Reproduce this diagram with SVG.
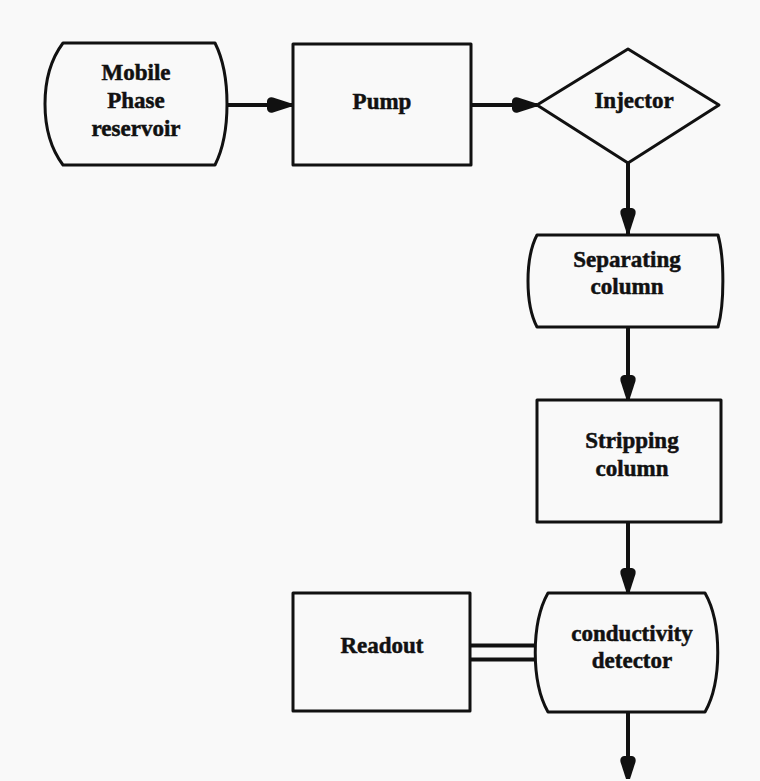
<svg xmlns="http://www.w3.org/2000/svg" xmlns:xlink="http://www.w3.org/1999/xlink" width="760" height="781" viewBox="0 0 760 781">
  <style>
    .box { fill: none; stroke: #111; stroke-width: 3; stroke-linejoin: round; }
    .flow { fill: none; stroke: #111; stroke-width: 4; }
    .label { font-family: "Liberation Serif", "Times New Roman", serif; font-weight: bold; font-size: 23px; fill: #111; stroke: #111; stroke-width: 0.5; text-anchor: middle; }
  </style>
  <defs>
    <!-- blunt-backed arrowhead, pointing right, tip at origin -->
    <path id="head" d="M0,-2 L-17,-7.5 Q-22,-8.5 -23,-4 L-23,4 Q-22,8.5 -17,7.5 L0,2 Z" fill="#111"/>
  </defs>
  <rect width="760" height="781" fill="#f9f9f9"/>

  <g id="connectors">
    <line class="flow" x1="227" y1="105" x2="293" y2="105"/>
    <use xlink:href="#head" transform="translate(290,105)"/>
    <line class="flow" x1="471" y1="105" x2="537" y2="105"/>
    <use xlink:href="#head" transform="translate(535,105)"/>
    <line class="flow" x1="628" y1="163" x2="628" y2="235"/>
    <use xlink:href="#head" transform="translate(628,231) rotate(90)"/>
    <line class="flow" x1="628" y1="327" x2="628" y2="400"/>
    <use xlink:href="#head" transform="translate(628,398) rotate(90)"/>
    <line class="flow" x1="628" y1="522" x2="628" y2="593"/>
    <use xlink:href="#head" transform="translate(628,591) rotate(90)"/>
    <line class="flow" x1="628" y1="712" x2="628" y2="770"/>
    <use xlink:href="#head" transform="translate(628,779) rotate(90)"/>
    <!-- double signal line to the readout -->
    <line class="flow" x1="470" y1="645.5" x2="536" y2="645.5"/>
    <line class="flow" x1="470" y1="659.5" x2="536" y2="659.5"/>
  </g>

  <g id="reservoir">
    <path class="box" d="M63,43 L215,43 C231,75 231,133 215,165 L63,165 C39,133 39,75 63,43 Z"/>
    <text class="label" x="136" y="80">Mobile</text>
    <text class="label" x="136" y="108">Phase</text>
    <text class="label" x="136" y="136">reservoir</text>
  </g>

  <g id="pump">
    <rect class="box" x="293" y="44" width="178" height="121"/>
    <text class="label" x="382" y="109">Pump</text>
  </g>

  <g id="injector">
    <polygon class="box" points="537,105 628,49 719,105 628,163"/>
    <text class="label" x="634" y="108">Injector</text>
  </g>

  <g id="separating-column">
    <path class="box" d="M537,235 L718,235 C724.5,258 724.5,304 718,327 L537,327 C525,304 525,258 537,235 Z"/>
    <text class="label" x="627" y="267">Separating</text>
    <text class="label" x="627" y="294">column</text>
  </g>

  <g id="stripping-column">
    <rect class="box" x="537" y="400" width="184" height="122"/>
    <text class="label" x="632" y="448">Stripping</text>
    <text class="label" x="632" y="476">column</text>
  </g>

  <g id="detector">
    <path class="box" d="M548,593 L705,593 C722,623 722,682 705,712 L548,712 C531,682 531,623 548,593 Z"/>
    <text class="label" x="632" y="641">conductivity</text>
    <text class="label" x="632" y="668">detector</text>
  </g>

  <g id="readout">
    <rect class="box" x="293" y="593" width="177" height="118"/>
    <text class="label" x="382" y="653">Readout</text>
  </g>
</svg>
